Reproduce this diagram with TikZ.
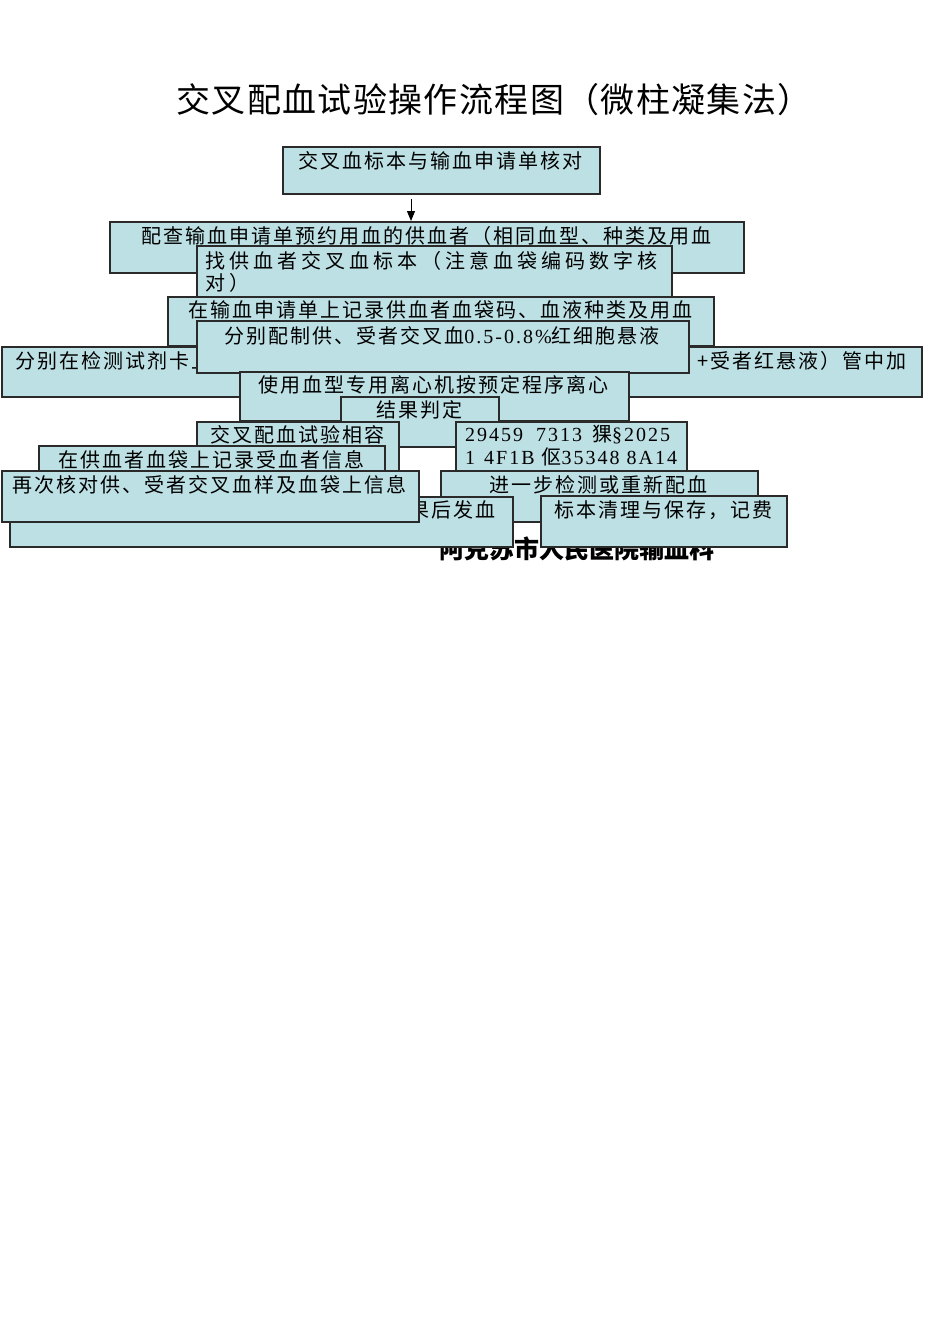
\documentclass[tikz,border=0pt]{standalone}
\usepackage{fontspec}
\usetikzlibrary{arrows.meta}
\newfontfamily\cjk[LetterSpace=10]{Noto Sans CJK SC}
\newfontfamily\cjkw[LetterSpace=20]{Noto Sans CJK SC}
\newfontfamily\cjkz{Noto Sans CJK SC}
\newfontfamily\cjkt[LetterSpace=4]{Noto Sans CJK SC}
\newfontfamily\lat[LetterSpace=10]{Liberation Serif}
\definecolor{boxfill}{HTML}{BDE0E4}
\definecolor{boxline}{HTML}{2A2A2A}
\tikzset{
  box/.style={draw=boxline, fill=boxfill, line width=1.6pt, inner sep=0pt, anchor=north west},
  bt/.style={inner sep=0pt, font=\cjk\fontsize{20}{22}\selectfont},
  arr/.style={-{Triangle[length=10pt,width=8pt]}, line width=1pt, black}
}
\begin{document}
\begin{tikzpicture}[x=1pt,y=-1pt]
\useasboundingbox (0,0) rectangle (950,1344);
\fill[white] (0,0) rectangle (950,1344);
% title
\node[inner sep=0pt, font=\cjkt\fontsize{34}{36}\selectfont] (title) at (494,100) {交叉配血试验操作流程图（微柱凝集法）};
% footer (partly covered)
\node[inner sep=0pt, font=\cjkz\bfseries\fontsize{25}{27}\selectfont] (foot) at (577,549) {阿克苏市人民医院输血科};
% box 1
\node[box, minimum width=317pt, minimum height=47pt] (b1) at (282,146) {};
\node[bt] (t1) at (440.5,161) {交叉血标本与输血申请单核对};
\coordinate (ax) at (411,0);
\draw[arr, shorten <=4pt] (b1.south -| ax) -- (ax |- 221,221);
% box 2
\node[box, minimum width=634pt, minimum height=51pt] (b2) at (109,221) {};
\node[bt] (t2) at (426,236) {配查输血申请单预约用血的供血者（相同血型、种类及用血};
% box 3
\node[box, minimum width=475pt, minimum height=51pt] (b3) at (196,245) {};
\node[bt, font=\cjkw\fontsize{20}{22}\selectfont, anchor=north west, align=left] (t3) at (205,251) {找供血者交叉血标本（注意血袋编码数字核\\对）};
% box 4
\node[box, minimum width=546pt, minimum height=49pt] (b4) at (167,296) {};
\node[bt] (t4) at (440,310) {在输血申请单上记录供血者血袋码、血液种类及用血};
% box 6
\node[box, minimum width=920pt, minimum height=50pt] (b6) at (1,346) {};
\node[bt, anchor=west] (t6a) at (15,361) {分别在检测试剂卡上};
\node[bt, anchor=east] (t6b) at (907,361) {+受者红悬液）管中加};
% box 5
\node[box, minimum width=492pt, minimum height=52pt] (b5) at (196,320) {};
\node[bt] (t5) at (442,336) {分别配制供、受者交叉血{\lat 0.5-0.8\%}红细胞悬液};
% box 7
\node[box, minimum width=389pt, minimum height=49pt] (b7) at (239,371) {};
\node[bt] (t7) at (433.5,385) {使用血型专用离心机按预定程序离心};
% box 8
\node[box, minimum width=158pt, minimum height=50pt] (b8) at (340,396) {};
\node[bt] (t8) at (419,410) {结果判定};
% box 9
\node[box, minimum width=202pt, minimum height=51pt] (b9) at (196,421) {};
\node[bt] (t9) at (297,435) {交叉配血试验相容};
% box 13
\node[box, minimum width=231pt, minimum height=49pt] (b13) at (455,421) {};
\node[bt, font=\lat\fontsize{20}{23}\selectfont, anchor=north west, align=left] (t13) at (465,425) {29459\hspace{6pt} 7313\hspace{3pt} {\cjk 猓}§2025\\1\hspace{2pt} 4F1B {\cjk 伛}35348 8A14};
% box 10
\node[box, minimum width=346pt, minimum height=50pt] (b10) at (38,445) {};
\node[bt] (t10) at (211,460) {在供血者血袋上记录受血者信息};
% box 14
\node[box, minimum width=317pt, minimum height=51pt] (b14) at (440,470) {};
\node[bt] (t14) at (598.5,485) {进一步检测或重新配血};
% box 12
\node[box, minimum width=503pt, minimum height=50pt] (b12) at (9,496) {};
\node[bt, anchor=east] (t12) at (496,510) {果后发血};
% box 11
\node[box, minimum width=417pt, minimum height=51pt] (b11) at (1,470) {};
\node[bt] (t11) at (209.5,485) {再次核对供、受者交叉血样及血袋上信息};
% box 15
\node[box, minimum width=246pt, minimum height=51pt] (b15) at (540,495) {};
\node[bt] (t15) at (663,510) {标本清理与保存，记费};
\end{tikzpicture}
\end{document}
